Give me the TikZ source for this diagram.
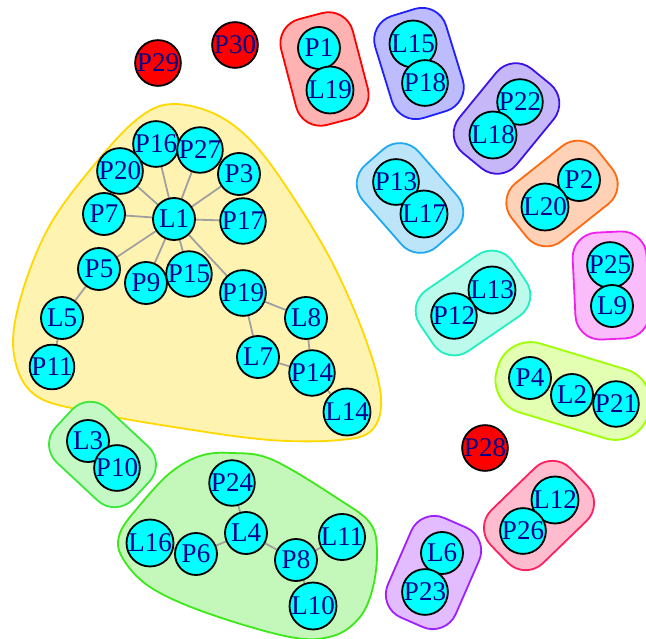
\documentclass[tikz,border=0pt]{standalone}
\usepackage{fontspec}
\setmainfont{Liberation Serif}
\usetikzlibrary{calc}
\pgfdeclarelayer{bg}
\pgfdeclarelayer{hulls}
\pgfdeclarelayer{edgelayer}
\pgfsetlayers{bg,hulls,edgelayer,main}
\definecolor{nodecyan}{HTML}{00FFFF}
\definecolor{labelblue}{HTML}{00008B}
\definecolor{edgegray}{HTML}{A0A0A0}
\definecolor{gRed}{HTML}{FF0000}
\definecolor{gOrange}{HTML}{FF6A10}
\definecolor{gYellow}{HTML}{FFD800}
\definecolor{gLime}{HTML}{9DFF00}
\definecolor{gGreen}{HTML}{3CE81A}
\definecolor{gGreenB}{HTML}{3CE83C}
\definecolor{gTeal}{HTML}{20F0C0}
\definecolor{gSky}{HTML}{20A8F0}
\definecolor{gBlue}{HTML}{2020FF}
\definecolor{gIndigo}{HTML}{4010E8}
\definecolor{gPurple}{HTML}{9D20FF}
\definecolor{gMagenta}{HTML}{F020F0}
\definecolor{gPink}{HTML}{FF2060}
% hull round two nodes: #1,#2 end nodes, #3 colour, #4 margin along, #5 margin across, #6 corner radius
\newcommand\pairhull[6]{%
  \draw[bighull=#3, rounded corners=#6]
    ($(#1.center)!-#4!(#2.center)!#5!90:(#2.center)$) --
    ($(#1.center)!-#4!(#2.center)!#5!-90:(#2.center)$) --
    ($(#2.center)!-#4!(#1.center)!#5!90:(#1.center)$) --
    ($(#2.center)!-#4!(#1.center)!#5!-90:(#1.center)$) -- cycle;}
\begin{document}
\begin{tikzpicture}[x=1pt,y=-1pt,
  vnode/.style={circle, draw=black, line width=1.8pt, fill=nodecyan, minimum size=42pt, inner sep=0pt,
    font=\fontsize{27}{27}\selectfont, text=labelblue},
  rnode/.style={vnode, fill=red},
  edge/.style={draw=edgegray, line width=1.8pt},
  bighull/.style={draw=#1, fill=#1!30!white, line width=1.8pt}
]
\useasboundingbox (0,0) rectangle (646,639);
\begin{pgfonlayer}{bg}
\fill[white] (0,0) rectangle (646,639);
\end{pgfonlayer}

% yellow group
\node[vnode] (P16) at (156,144) {P16};
\node[vnode] (P27) at (200,150) {P27};
\node[vnode] (P20) at (120,171) {P20};
\node[vnode] (P3) at (239,174) {P3};
\node[vnode] (P7) at (104,214) {P7};
\node[vnode] (L1) at (174,219) {L1};
\node[vnode] (P17) at (243,221) {P17};
\node[vnode] (P5) at (99,269) {P5};
\node[vnode] (P9) at (146,283) {P9};
\node[vnode] (P15) at (189,274) {P15};
\node[vnode] (P19) at (243,293) {P19};
\node[vnode] (L8) at (306,318) {L8};
\node[vnode] (L5) at (62,318) {L5};
\node[vnode] (L7) at (258,357) {L7};
\node[vnode] (P14) at (312,373) {P14};
\node[vnode] (P11) at (52,367) {P11};
\node[vnode] (L14) at (347,412) {L14};

% pairs
\node[vnode] (P1) at (319,48) {P1};
\node[vnode] (L19) at (330,90) {L19};
\node[vnode] (L15) at (413,44) {L15};
\node[vnode] (P18) at (425,83) {P18};
\node[vnode] (P22) at (520,102) {P22};
\node[vnode] (L18) at (493,135) {L18};
\node[vnode] (P13) at (396,182) {P13};
\node[vnode] (L17) at (424,214) {L17};
\node[vnode] (P2) at (579,180) {P2};
\node[vnode] (L20) at (545,207) {L20};
\node[vnode] (P25) at (610,265) {P25};
\node[vnode] (L9) at (612,306) {L9};
\node[vnode] (L13) at (492,290) {L13};
\node[vnode] (P12) at (454,316) {P12};
\node[vnode] (P4) at (530,378) {P4};
\node[vnode] (L2) at (572,395) {L2};
\node[vnode] (P21) at (616,404) {P21};
\node[vnode] (L12) at (555,500) {L12};
\node[vnode] (P26) at (523,531) {P26};
\node[vnode] (L6) at (442,553) {L6};
\node[vnode] (P23) at (425,592) {P23};
\node[vnode] (L3) at (88,441) {L3};
\node[vnode] (P10) at (117,468) {P10};

% green group
\node[vnode] (P24) at (232,483) {P24};
\node[vnode] (L4) at (246,533) {L4};
\node[vnode] (L16) at (150,543) {L16};
\node[vnode] (P6) at (196,554) {P6};
\node[vnode] (P8) at (296,560) {P8};
\node[vnode] (L11) at (342,537) {L11};
\node[vnode] (L10) at (313,606) {L10};

% isolated
\node[rnode] (P29) at (158,63) {P29};
\node[rnode] (P30) at (235,45) {P30};
\node[rnode] (P28) at (485,448) {P28};

\begin{pgfonlayer}{edgelayer}
\foreach \t in {P16,P27,P20,P3,P7,P17,P5,P9,P15,P19}
  \draw[edge] (L1) -- (\t);
\draw[edge] (P5) -- (L5);
\draw[edge] (L5) -- (P11);
\draw[edge] (P19) -- (L8);
\draw[edge] (P19) -- (L7);
\draw[edge] (L8) -- (P14);
\draw[edge] (L7) -- (P14);
\draw[edge] (P14) -- (L14);
\draw[edge] (P24) -- (L4);
\draw[edge] (P6) -- (L4);
\draw[edge] (L4) -- (P8);
\draw[edge] (P8) -- (L11);
\draw[edge] (P8) -- (L10);
\draw[edge] (L16) -- (P6);
\end{pgfonlayer}

\begin{pgfonlayer}{hulls}
\draw[bighull=gYellow] plot[smooth cycle, tension=0.6] coordinates {
  (173,104) (217,115) (255,145) (295,200) (335,268) (367,343) (381,398)
  (372,430) (340,440) (270,440) (180,428) (90,412) (35,395) (14,355)
  (20,300) (50,225) (100,158) (140,117)};
\draw[bighull=gGreen] plot[smooth cycle, tension=0.6] coordinates {
  (200,456) (232,453) (273,460) (340,500) (370,523) (377,550) (373,587)
  (360,617) (333,636) (290,637) (207,613) (150,587) (122,557) (120,533)
  (140,505) (170,473)};
\pairhull{P1}{L19}{gRed}{33pt}{37pt}{25pt}
\pairhull{L15}{P18}{gBlue}{33pt}{37pt}{25pt}
\pairhull{L18}{P22}{gIndigo}{33pt}{37pt}{25pt}
\pairhull{P13}{L17}{gSky}{33pt}{37pt}{25pt}
\pairhull{L20}{P2}{gOrange}{33pt}{37pt}{25pt}
\pairhull{P25}{L9}{gMagenta}{33pt}{37pt}{25pt}
\pairhull{P12}{L13}{gTeal}{33pt}{37pt}{25pt}
\pairhull{P26}{L12}{gPink}{33pt}{37pt}{25pt}
\pairhull{P23}{L6}{gPurple}{33pt}{37pt}{25pt}
\pairhull{L3}{P10}{gGreenB}{33pt}{37pt}{25pt}
\pairhull{P4}{P21}{gLime}{34pt}{36pt}{34pt}
\end{pgfonlayer}
\end{tikzpicture}
\end{document}
